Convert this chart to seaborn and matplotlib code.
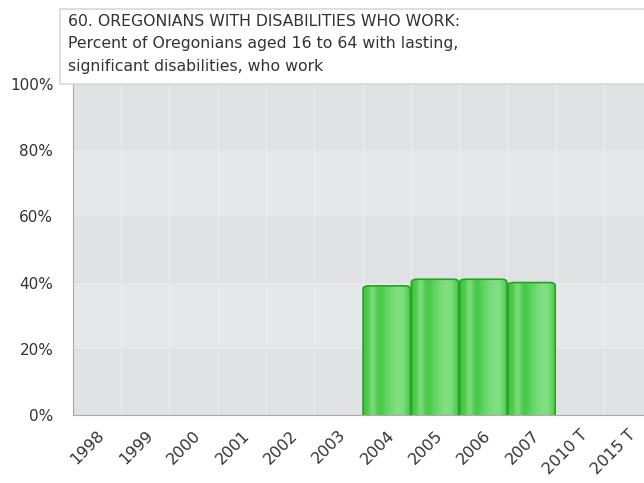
import numpy as np
import pandas as pd
import seaborn as sns
import matplotlib.pyplot as plt
from matplotlib.patches import Rectangle, FancyBboxPatch

# dane
years = ["1998", "1999", "2000", "2001", "2002", "2003", "2004", "2005",
         "2006", "2007", "2010 T", "2015 T"]
percent = [np.nan, np.nan, np.nan, np.nan, np.nan, np.nan, 39, 41, 41, 40,
           np.nan, np.nan]
y_ticks = [0, 20, 40, 60, 80, 100]
title_lines = ["60. OREGONIANS WITH DISABILITIES WHO WORK:",
               "Percent of Oregonians aged 16 to 64 with lasting,",
               "significant disabilities, who work"]

data = pd.DataFrame({"rok": years, "procent": percent})

sns.set_style("white")
plt.rcParams["font.family"] = ["DejaVu Sans"]

fig = plt.figure(figsize=(6.44, 4.83), dpi=100)
ax = fig.add_axes([0.113, 0.141, 0.90, 0.685])

# tło w pasy
for i, lo in enumerate(y_ticks[:-1]):
    col = "#dfe1e3" if i % 2 == 0 else "#e5e7e9"
    ax.axhspan(lo, lo + 20, color=col, zorder=0, lw=0)
for k in range(len(years) + 1):
    ax.axvline(k - 0.5, color="#ebedef", lw=0.8, zorder=0.5)

sns.barplot(x="rok", y="procent", data=data, ax=ax, color="#4fcc4f",
            width=0.98, edgecolor="#2a9f2a", linewidth=1.2, zorder=2)

# efekt walca - gradient na słupkach
grad = np.array([0.35, 0.5, 0.85, 0.45, 0.4, 0.55, 0.65, 0.72, 0.78, 0.8, 0.7, 0.45])
cmap = plt.matplotlib.colors.LinearSegmentedColormap.from_list(
    "g", ["#23a623", "#52cf52", "#a5eca5"])
bars = [p for c in ax.containers for p in c]
for p in bars:
    h = p.get_height()
    if not np.isfinite(h) or h == 0:
        continue
    x0, w = p.get_x(), p.get_width()
    p.set_visible(False)
    shape = FancyBboxPatch((x0, -5), w, h + 5, boxstyle="round,pad=0,rounding_size=0.12",
                           mutation_aspect=8, facecolor="none", edgecolor="#2a9f2a",
                           lw=1.2, zorder=3)
    ax.add_patch(shape)
    im = ax.imshow(grad[np.newaxis, :], cmap=cmap, vmin=0, vmax=1, aspect="auto",
                   extent=[x0, x0 + w, 0, h], zorder=2.5, interpolation="bicubic")
    im.set_clip_path(shape)

ax.set_xlim(-0.5, len(years) - 0.5)
ax.set_ylim(0, 100)
ax.set_yticks(y_ticks)
ax.set_yticklabels([f"{v}%" for v in y_ticks], fontsize=11, color="#333333")
ax.set_xticks(range(len(years)))
ax.set_xticklabels(years, rotation=45, ha="right", rotation_mode="anchor",
                   fontsize=11.5, color="#333333")
ax.tick_params(axis="y", length=0, pad=14)
ax.tick_params(axis="x", length=0, pad=9)
ax.set_xlabel("")
ax.set_ylabel("")
for s in ["top", "right"]:
    ax.spines[s].set_visible(False)
ax.spines["left"].set_color("#aaaaaa")
ax.spines["bottom"].set_color("#aaaaaa")

# biała ramka z tytułem
fig.patches.append(Rectangle((0.093, 0.826), 0.93, 0.155, transform=fig.transFigure,
                             facecolor="white", edgecolor="#d8d8d8", lw=1.2))
for i, line in enumerate(title_lines):
    fig.text(0.106, 0.955 - i * 0.046, line, fontsize=11.3, color="#333333",
             va="center", ha="left")

plt.savefig("out.png", dpi=100)
